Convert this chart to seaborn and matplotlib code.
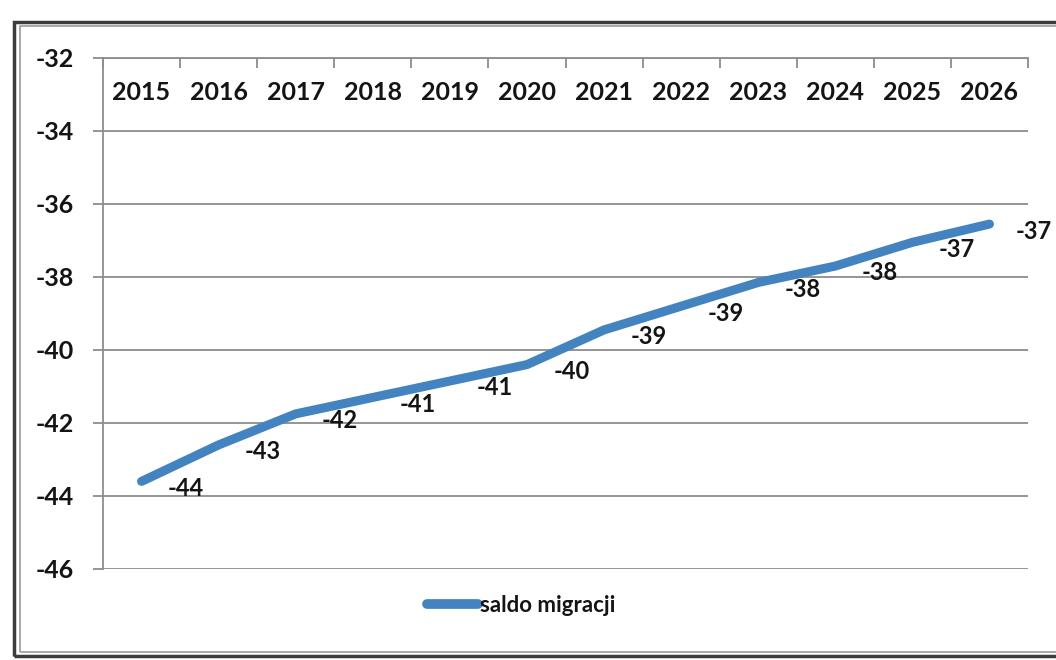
import numpy as np
import pandas as pd
import matplotlib
matplotlib.use("Agg")
import matplotlib.pyplot as plt
import seaborn as sns
from matplotlib.patches import Rectangle
from matplotlib.ticker import FixedLocator

years = ["2015", "2016", "2017", "2018", "2019", "2020",
         "2021", "2022", "2023", "2024", "2025", "2026"]
saldo = [-43.6, -42.6, -41.75, -41.3, -40.85, -40.4,
         -39.45, -38.8, -38.15, -37.7, -37.05, -36.55]
labels = ["-44", "-43", "-42", "-41", "-41", "-40",
          "-39", "-39", "-38", "-38", "-37", "-37"]
y_ticks = [-32, -34, -36, -38, -40, -42, -44, -46]
series_name = "saldo migracji"

sns.set_theme(style="white")
plt.rcParams['font.family'] = ['Lato', 'DejaVu Sans']
plt.rcParams['axes.unicode_minus'] = False

df = pd.DataFrame({"pos": np.arange(len(years)), "value": saldo, "series": series_name})

fig = plt.figure(figsize=(10.56, 6.6), dpi=100)
ax = fig.add_axes([103/1056, 1-569/660, (1028-103)/1056, (569-58)/660])

line_color = "#4283c0"
grid_color = "#8c8c8c"
text_color = "#141414"

sns.lineplot(data=df, x="pos", y="value", hue="series", palette=[line_color],
             linewidth=6.5, ax=ax, legend=True)
for l in ax.lines:
    l.set_solid_capstyle("round")
    l.set_solid_joinstyle("round")

ax.set_xlim(-0.5, len(years) - 0.5)
ax.set_ylim(-46, -32)
ax.set_yticks(y_ticks)
ax.set_yticklabels([str(v) for v in y_ticks], fontsize=18, fontweight="bold", color=text_color)
ax.yaxis.grid(True, color=grid_color, linewidth=1.3)
ax.xaxis.grid(False)
ax.set_xlabel("")
ax.set_ylabel("")

# x axis at the top (-32) with labels inside the plot
ax.set_xticks(np.arange(len(years)))
ax.set_xticklabels(years, fontsize=18, fontweight="bold", color=text_color)
ax.xaxis.set_minor_locator(FixedLocator(np.arange(-0.5, len(years), 1.0)))
ax.tick_params(axis="x", which="major", top=True, labeltop=True, bottom=False,
               labelbottom=False, length=0, pad=-33)
ax.tick_params(axis="x", which="minor", top=True, bottom=False, direction="in",
               length=7, width=1.3, color=grid_color)
ax.tick_params(axis="y", which="major", left=True, direction="out", length=7,
               width=1.3, color=grid_color, pad=14)

for side in ["right", "bottom"]:
    ax.spines[side].set_visible(False)
for side in ["left", "top"]:
    ax.spines[side].set_color(grid_color)
    ax.spines[side].set_linewidth(1.3)

for x, v, t in zip(df["pos"], saldo, labels):
    ax.annotate(t, (x, v), xytext=(19, -5), textcoords="offset points",
                ha="left", va="center", fontsize=17, fontweight="bold", color=text_color)

leg = ax.legend(loc="center", bbox_to_anchor=(521/1056, 1-605/660),
                bbox_transform=fig.transFigure, frameon=False,
                prop={"size": 16, "weight": "bold"}, handlelength=2.3,
                handletextpad=0.1)
for t in leg.get_texts():
    t.set_color(text_color)
for h in leg.get_lines():
    h.set_linewidth(7)
    h.set_solid_capstyle("round")

# scanned frame around the chart
fig.patches.append(Rectangle((14/1056, 4/660), 1.05, 1-26/660, transform=fig.transFigure,
                             fill=False, edgecolor="#3c3c3c", linewidth=2.5, zorder=0))
fig.patches.append(Rectangle((20/1056, 8/660), 1.05, 1-34/660, transform=fig.transFigure,
                             fill=False, edgecolor="#9a9a9a", linewidth=1.2, zorder=0))

fig.savefig("out.png", dpi=100)
